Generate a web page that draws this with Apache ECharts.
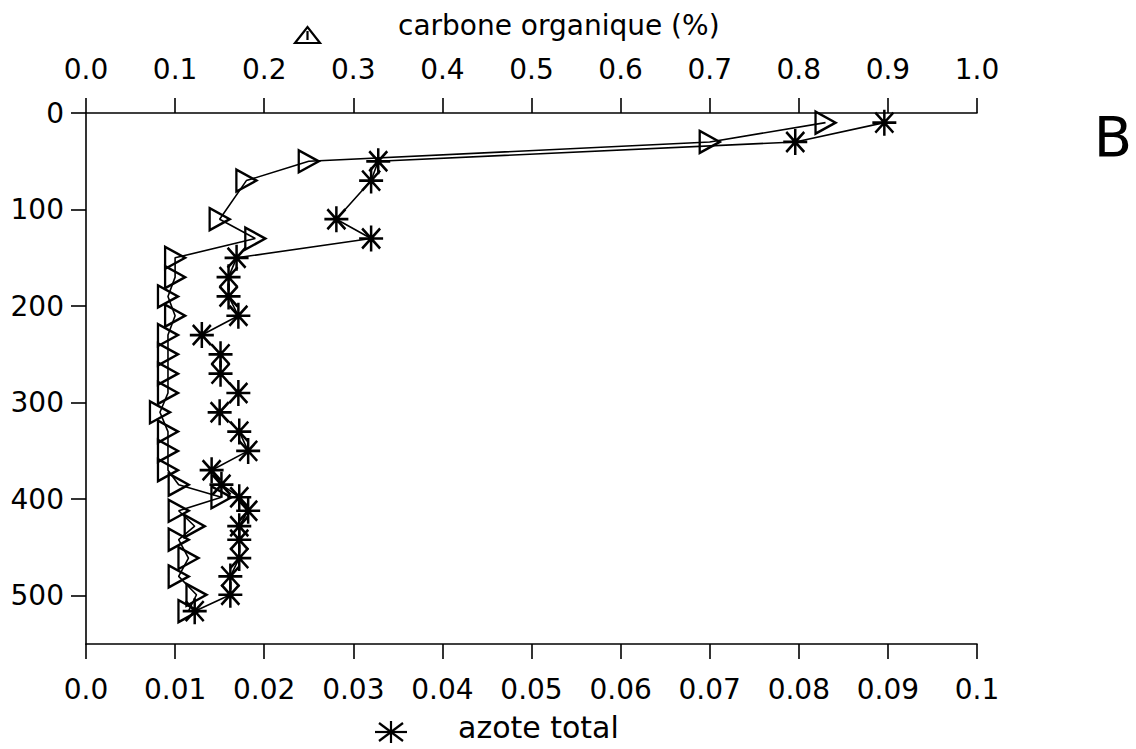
<!DOCTYPE html>
<html><head><meta charset="utf-8">
<script src="https://cdn.jsdelivr.net/npm/echarts@6/dist/echarts.min.js"></script>
<style>html,body{margin:0;padding:0;background:#fff}#c{width:1136px;height:749px}</style>
</head><body><div id="c"></div>
<script>
// depth (cm) of each sample
const depths = [10,30,50,70,110,130,150,170,190,210,230,250,270,290,310,330,350,370,385,398,412,428,442,461,480,499,516];
// carbone organique (%) - top axis
const carbone = [0.83,0.70,0.25,0.18,0.15,0.19,0.10,0.10,0.092,0.10,0.092,0.092,0.092,0.092,0.083,0.092,0.092,0.092,0.104,0.152,0.104,0.122,0.104,0.115,0.104,0.124,0.115];
// azote total (%) - bottom axis
const azote = [0.0896,0.0796,0.0328,0.032,0.0281,0.032,0.0169,0.016,0.016,0.0171,0.013,0.0151,0.0151,0.0171,0.015,0.0172,0.0182,0.0141,0.0152,0.0172,0.0182,0.0172,0.0172,0.0172,0.0162,0.0162,0.0122];
const carboneTicks = ['0.0','0.1','0.2','0.3','0.4','0.5','0.6','0.7','0.8','0.9','1.0'];
const azoteTicks = ['0.0','0.01','0.02','0.03','0.04','0.05','0.06','0.07','0.08','0.09','0.1'];
const depthTicks = [0,100,200,300,400,500];

const FONT = 'DejaVu Sans';
const chart = echarts.init(document.getElementById('c'), null, {renderer: 'svg'});
const axisCommon = {
  axisLine: {show: true, lineStyle: {color: '#000', width: 1.6}},
  axisTick: {show: true, inside: false, length: 15, lineStyle: {color: '#000', width: 1.6}},
  splitLine: {show: false}
};
const triPath = 'path://M0 0L20 11L0 22Z';
const starPath = 'path://M12 0V26M0 13H24M3 3L21 23M3 23L21 3';
const blk = {stroke: '#000', lineWidth: 2.2, fill: 'none'};
chart.setOption({
  animation: false,
  backgroundColor: '#fff',
  grid: {left: 86, top: 113, width: 891, height: 531, containLabel: false},
  xAxis: [
    Object.assign({}, axisCommon, {
      type: 'value', position: 'top', min: 0, max: 1, interval: 0.1,
      axisLabel: {margin: 30, fontFamily: FONT, fontSize: 28, color: '#000',
        formatter: v => carboneTicks[Math.round(v * 10)]}
    }),
    Object.assign({}, axisCommon, {
      type: 'value', position: 'bottom', min: 0, max: 0.1, interval: 0.01,
      axisLabel: {margin: 31, fontFamily: FONT, fontSize: 28, color: '#000',
        formatter: v => azoteTicks[Math.round(v * 100)]}
    })
  ],
  yAxis: Object.assign({}, axisCommon, {
    type: 'value', inverse: true, min: 0, max: 550,
    axisTick: {show: true, length: 15, lineStyle: {color: '#000', width: 1.6}, customValues: depthTicks},
    axisLabel: {margin: 22, fontFamily: FONT, fontSize: 28, color: '#000', customValues: depthTicks}
  }),
  series: [
    {
      name: 'carbone organique (%)', type: 'line', xAxisIndex: 0, yAxisIndex: 0,
      data: depths.map((d, i) => [carbone[i], d]),
      symbol: triPath, symbolSize: [20, 22], showAllSymbol: true,
      lineStyle: {color: '#000', width: 1.6},
      itemStyle: {color: 'rgba(0,0,0,0)', borderColor: '#000', borderWidth: 2.4},
      emphasis: {disabled: true}
    },
    {
      name: 'azote total', type: 'line', xAxisIndex: 1, yAxisIndex: 0,
      data: depths.map((d, i) => [azote[i], d]),
      symbol: starPath, symbolSize: [24, 26], showAllSymbol: true,
      lineStyle: {color: '#000', width: 1.6},
      itemStyle: {color: 'rgba(0,0,0,0)', borderColor: '#000', borderWidth: 2.6},
      emphasis: {disabled: true}
    }
  ],
  graphic: [
    {type: 'polygon', shape: {points: [[295,43],[307.5,27],[320,43]]}, style: blk},
    {type: 'line', shape: {x1: 307.5, y1: 31, x2: 307.5, y2: 40}, style: blk},
    {type: 'text', x: 398, y: 25, style: {text: 'carbone organique (%)', font: '28px "DejaVu Sans"', fill: '#000', align: 'left', verticalAlign: 'middle'}},
    {type: 'line', shape: {x1: 375, y1: 732, x2: 407, y2: 732}, style: blk},
    {type: 'line', shape: {x1: 391, y1: 721, x2: 391, y2: 743}, style: blk},
    {type: 'line', shape: {x1: 379, y1: 723, x2: 403, y2: 741}, style: blk},
    {type: 'line', shape: {x1: 379, y1: 741, x2: 403, y2: 723}, style: blk},
    {type: 'text', x: 458, y: 727, style: {text: 'azote total', font: '30px "DejaVu Sans"', fill: '#000', align: 'left', verticalAlign: 'middle'}},
    {type: 'text', x: 1113, y: 136, style: {text: 'B', font: '56px "DejaVu Sans"', fill: '#000', align: 'center', verticalAlign: 'middle'}}
  ]
});
</script></body></html>
